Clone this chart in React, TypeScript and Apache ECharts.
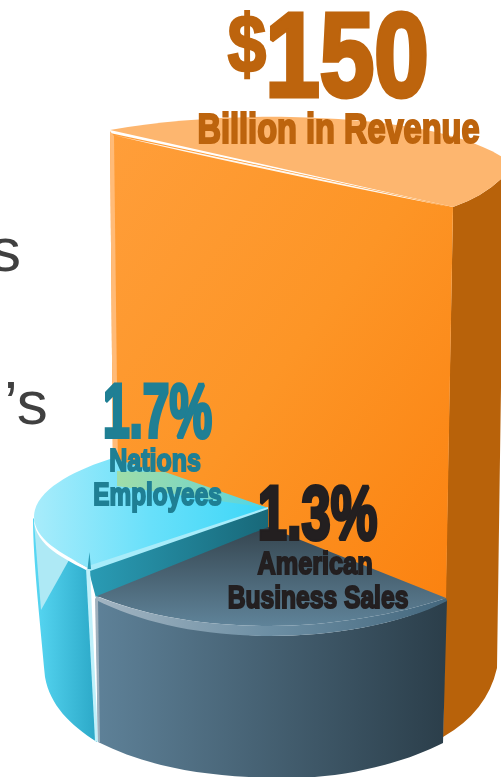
import React, { useEffect, useRef } from "react";
import * as echarts from "echarts";

const sliceNames = ["Billion in Revenue", "Nations Employees", "American Business Sales"];
const sliceValues = [150, 1.7, 1.3];
const fragmentTexts = ["s", "\u2019s"];

const HEAVY = "'Liberation Sans', Arial, sans-serif";
const grad = (x0: number, y0: number, x1: number, y1: number, stops: [number, string][]) =>
  new echarts.graphic.LinearGradient(x0, y0, x1, y1, stops.map(([offset, color]) => ({ offset, color })));

const shape = (d: string, fill: any, extra: any = {}) => ({
  type: "path",
  shape: { pathData: d },
  style: { fill, ...extra },
});

const heavyText = (
  text: string, cx: number, baseline: number, size: number, fill: string,
  scaleX: number, scaleY: number, stroke: number, lineHeight?: number,
) => ({
  type: "text",
  x: cx,
  y: baseline,
  scaleX,
  scaleY,
  style: {
    text,
    x: 0,
    y: 0,
    font: `bold ${size}px ${HEAVY}`,
    fill,
    stroke: fill,
    lineWidth: stroke,
    textAlign: "center",
    textVerticalAlign: "bottom",
    ...(lineHeight ? { lineHeight } : {}),
  },
});

function orangeSlice(value: number, name: string) {
  return [
    shape("M453 207 Q485 196 504 176 L497 668 Q487 712 443 737 Z", "#B8620A"),
    shape("M110 133 L453 207 L446 600 L268 540 L113 470 Z",
      grad(0, 0, 1, 1, [[0, "#FF9E3A"], [0.5, "#FD9526"], [1, "#FB8210"]])),
    shape("M110 131 L114 136 L118 472 L113 472 Z", "#FFBB78"),
    shape("M110 130 C170 119 240 116 290 117 C380 119 460 130 504 158 L504 176 Q485 196 453 207 Z", "#FDB66F"),
    shape("M113 135 Q270 172 450 207 Q270 168 113 135 Z", "rgba(255,255,255,0.92)"),
    heavyText(`${value}`, 347, 103, 124, "#BD640D", 0.79, 0.96, 5, 100),
    heavyText("$", 247, 85, 96, "#BD640D", 0.72, 0.85, 3),
    heavyText(name, 338.5, 149, 42, "#BD640D", 0.775, 1.0, 2.2),
  ];
}

function blueSlice(value: number, name: string) {
  const [line1, line2] = name.split(" ");
  return [
    shape("M33 518 C33 560 40 620 45 677 C50 705 70 725 97 742 L88 568 Z",
      grad(0, 0, 1, 0, [[0, "#58D8F4"], [1, "#2BA8C7"]])),
    shape("M34 522 L69 560 L41 610 Z", "#AEE9F5"),
    shape("M268 508 L88 568 L96 598 L268 528 Z",
      grad(0, 0, 1, 0, [[0, "#2A9CB5"], [1, "#186879"]])),
    shape("M86 568 L90 568 L98 742 L95 741 Z", "#BFF0FA"),
    shape("M113 458 L268 508 L88 568 C60 552 34 545 34 517 C34 490 75 470 113 458 Z",
      grad(0, 0, 1, 0, [[0, "#A8ECFB"], [0.5, "#68E0FA"], [1, "#3CD6F7"]])),
    shape("M117 471 L165 472 L268 508 L117 486 Z",
      grad(0, 0, 1, 0, [[0, "#A0DDA8"], [0.6, "#7BD7C4"], [1, "#48D6EE"]])),
    shape("M268 507 L88 566 L90 571 L268 509 Z", "#A8ECFA"),
    shape("M34 517 C35 540 60 552 88 568 L86 570 C58 556 33 542 34 517 Z", "#FFFFFF"),
    shape("M89.5 552 L91 569 L87.5 569 Z", "#2A9CB5"),
    heavyText(`${value}%`, 157.5, 449, 76, "#1F7F94", 0.63, 1.0, 4),
    heavyText(line1, 155, 476, 32, "#1F7F94", 0.78, 1.0, 2),
    heavyText(line2, 157.5, 510, 32, "#1F7F94", 0.76, 1.0, 2),
  ];
}

function darkSlice(value: number, name: string) {
  const first = name.split(" ")[0];
  const rest = name.split(" ").slice(1).join(" ");
  return [
    shape("M96 598 C160 625 230 636 270 636 C330 636 400 625 447 600 L443 743 C400 765 340 778 290 778 C210 778 150 768 98 742 Z",
      grad(0, 0, 1, 0, [[0, "#5E8198"], [1, "#2B3E4A"]])),
    shape("M268 527 L446 598 C400 614 330 626 270 626 C200 626 140 614 97 596 Z",
      grad(0, 0, 0, 1, [[0, "#35454F"], [1, "#5F8399"]])),
    shape("M96 596 C140 614 200 626 270 626 C330 626 400 614 446 598 L447 601 C400 625 330 636 270 636 C200 636 140 622 96 600 Z",
      grad(0, 0, 1, 0, [[0, "#A3B5C2"], [0.5, "#6C8EA3"], [1, "#44677D"]])),
    shape("M95 598 L98 600 L100 742 L98 742 Z", "#9FB1BE"),
    heavyText(`${value}%`, 317.5, 551, 76, "#231F20", 0.69, 1.0, 4),
    heavyText(first, 315, 579, 32, "#231F20", 0.79, 1.0, 2),
    heavyText(rest, 318, 613, 32, "#231F20", 0.77, 1.0, 2),
  ];
}

const sliceRenderers = [orangeSlice, blueSlice, darkSlice];

export default function App() {
  const ref = useRef<HTMLDivElement>(null);
  useEffect(() => {
    document.body.style.margin = "0";
    const chart = echarts.init(ref.current!, null, { renderer: "svg" });
    chart.setOption({
      animation: false,
      graphic: [
        {
          type: "text", x: -10, y: 218, silent: true,
          style: { text: fragmentTexts[0], font: "62px 'Liberation Sans', Arial, sans-serif", fill: "#404040" },
        },
        {
          type: "text", x: 4, y: 371, silent: true,
          style: { text: fragmentTexts[1], font: "62px 'Liberation Sans', Arial, sans-serif", fill: "#404040" },
        },
      ],
      series: [
        {
          type: "custom",
          coordinateSystem: "none",
          silent: true,
          clip: false,
          data: sliceValues.map((value, i) => ({ name: sliceNames[i], value })),
          renderItem: (params: any, api: any) => ({
            type: "group",
            children: sliceRenderers[params.dataIndex](api.value(0), sliceNames[params.dataIndex]),
          }),
        },
      ],
    });
    return () => chart.dispose();
  }, []);
  return <div ref={ref} style={{ width: 501, height: 777, position: "fixed", left: 0, top: 0 }} />;
}
